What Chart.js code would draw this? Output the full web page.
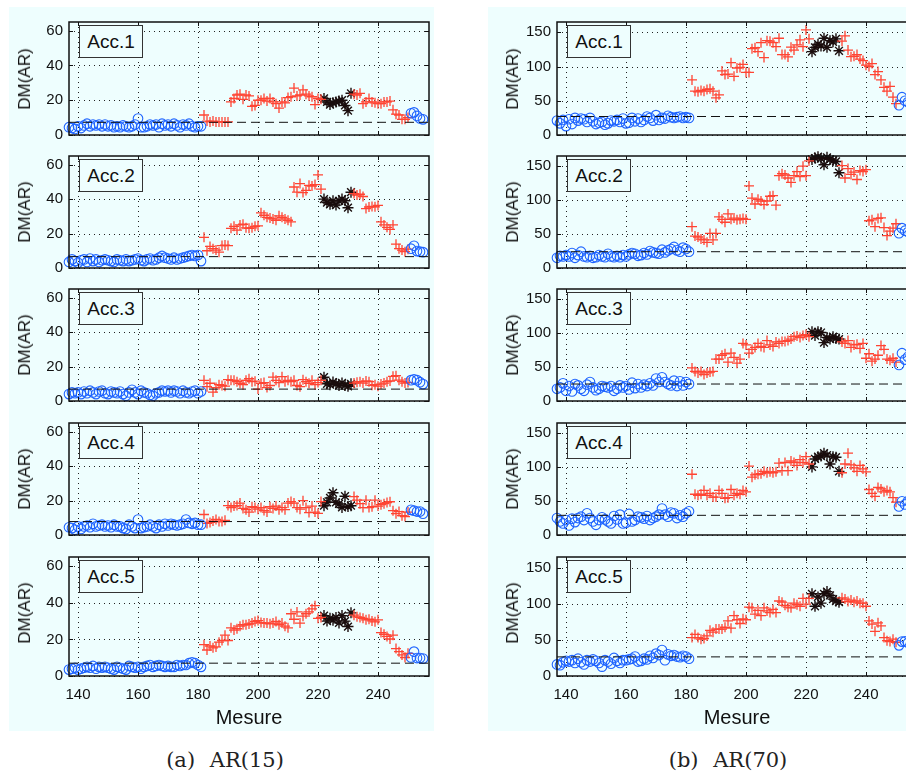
<!DOCTYPE html>
<html>
<head>
<meta charset="utf-8">
<script src="https://cdn.jsdelivr.net/npm/chart.js@4.4.1/dist/chart.umd.min.js"></script>
<style>
  html, body { margin: 0; padding: 0; }
  body { width: 906px; height: 774px; overflow: hidden; background: #fff; position: relative; font-family: "Liberation Sans", Arial, sans-serif; }
  .fond { position: absolute; background: #eefefe; }
  canvas { position: absolute; }
  .ylab { position: absolute; transform: translate(-50%, -50%) rotate(-90deg); font-size: 17px; color: #111; white-space: nowrap; }
  .acc { position: absolute; width: 62px; height: 31px; border: 1.3px solid #333; background: #eefefe; font-size: 19px; color: #111; text-align: center; line-height: 31px; }
  .xlab { position: absolute; transform: translate(-50%, -50%); font-size: 20px; color: #111; white-space: nowrap; }
  .legende { position: absolute; transform: translate(-50%, -50%); font-family: "DejaVu Serif", "Liberation Serif", serif; font-size: 21px; color: #222; white-space: nowrap; word-spacing: 8px; }
</style>
</head>
<body>
<div class="fond" style="left:9px; top:7px; width:425px; height:724px;"></div>
<div class="fond" style="left:488px; top:7px; width:430px; height:724px;"></div>
<div id="zone"></div>
<div class="xlab" style="left:249px; top:717px;">Mesure</div>
<div class="xlab" style="left:737px; top:717px;">Mesure</div>
<div class="legende" style="left:225px; top:760px;">(a) AR(15)</div>
<div class="legende" style="left:728px; top:760px;">(b) AR(70)</div>
<script>
// Mesure index (x)
const mesure = [
  137,138,139,140,141,142,143,144,145,146,
  147,148,149,150,151,152,153,154,155,156,
  157,158,159,160,161,162,163,164,165,166,
  167,168,169,170,171,172,173,174,175,176,
  177,178,179,180,181,182,183,184,185,186,
  187,188,189,190,191,192,193,194,195,196,
  197,198,199,200,201,202,203,204,205,206,
  207,208,209,210,211,212,213,214,215,216,
  217,218,219,220,221,222,223,224,225,226,
  227,228,229,230,231,232,233,234,235,236,
  237,238,239,240,241,242,243,244,245,246,
  247,248,249,250,251,252,253,254,255
];
// state boundaries
const debutDommage = 182, debutAlarme = 222, finAlarme = 231, retourSain = 251;

const xTicks = [140, 160, 180, 200, 220, 240];
const yTicksAR15 = [0, 20, 40, 60];
const yTicksAR70 = [0, 50, 100, 150];
const seuilsAR15 = [7.3, 6.6, 6.9, 7.8, 7.0];
const seuilsAR70 = [27, 24, 25, 29, 26.5];
const capteurs = ['Acc.1', 'Acc.2', 'Acc.3', 'Acc.4', 'Acc.5'];

// AR(15)
const dmAR15_1 = [
  4.5,4,3.5,5,4,5.5,6.5,5,6,5.5, 6,5,6,5,5.5,4.5,5,4.5,5.5,5, 4.5,5,6,9.5,4.5,4.5,5,6,5.5,6, 4.5,6.5,5.5,6,5,6.5,5.5,4.5,6,5.5, 6.5,5,4.5,5,5,
  11.5,8,7.5,8,7.5,7.5,7.5,7.5,7.5,19, 21,23,23.5,20.5,23,22.5,16.5,17,20,20, 21,19.5,21,19,18,15.5,19,18.5,21.5,22, 27,22.5,23,26,23.5,22.5,22,17.5,21,20.5,
  21,19,17.5,18.5,19,19.5,20,17,14,24,
  23.5,23,24,18,19,21,19,18.5,18,18, 19,19,19.5,14.5,12,11.5,9,9,10,
  12.5,13,11,9.5,9
];
const dmAR15_2 = [
  3.5,5,4,3,4.5,5,3.5,5.5,4,5, 3.5,4.5,5,4.5,4,3.5,5,4.5,4,5, 4,4.5,5,5.5,4.5,4,5,5.5,4.5,5, 6,7,6,5.5,5,6,5,5.5,6,6.5, 7,7.5,7,7.5,4,
  17.8,10,12.5,11.2,10.4,9.2,13,13.3,13,23, 24.2,22,25,25.4,23.3,23,23.3,24.2,24.5,32, 30.6,29.4,29,28.5,27.7,30.3,29.4,28.5,27.7,26.8, 47,44,49,43.8,45,48,47.6,48.4,54,45.8,
  40,38,37,39,36.5,39,40,39,35,44,
  43.2,42.3,42.8,41.5,34.5,35.4,35.7,35.5,36.3,26.8, 25,23.6,22.4,25,13.8,11.2,10.4,9.5,10.9,
  11.2,12.9,9.8,9.5,9.2
];
const dmAR15_3 = [
  4,5,4.5,5,4,5.5,4.5,6,5,4, 5.5,6,4.5,4,5.5,5,4.5,5.5,4,3, 5,6.5,5,4,6,5,4.5,3.5,3,4.5, 5,6,5.5,6,5,6,5.5,4.5,6,5, 4.5,5.5,6,4.5,5.5,
  12,8.3,10.3,5.2,7.8,9.5,9,8.6,12.4,12, 12,11.2,10.3,9.5,12,12.9,11.2,11.5,6.9,10.3, 10.7,7.8,9,13.8,12,10.7,14.1,11.2,12,11.2, 12,9,8.3,12.4,11.2,10.3,12,9.5,10.7,12,
  13.8,10,9.5,11,10,9,10.5,9,8.5,10,
  10.4,10.9,11.2,10.4,11.6,11.2,9.1,9.5,8.6,9.8, 10.4,11.2,11.6,14.3,14.7,12.1,11.2,10.4,10.8,
  12.1,12.6,12.1,10.9,9.8
];
const dmAR15_4 = [
  4.5,4,3,5,3.5,5,5.5,4.5,6.5,5, 5.5,6,5,5.5,4.5,6,5,5,4,3.5, 6,5,4,9,4,4.5,5,6,5,4, 6,5,6.5,5.5,6.5,6,5.5,6,6.5,9, 7,6.5,7,6,6,
  11.9,6.7,7.3,8.1,9,7.8,7.8,8.5,17.1,15.9, 16.8,17.1,18.5,15.4,14.7,13.3,16.4,15.9,15,15.9, 14.2,13.3,16.4,15.4,16.8,14.7,15.9,14.7,18.5,19.4, 18.5,15.9,15,19.9,15.9,13,16.8,13.3,12.5,19.4,
  17,19,21.5,24.5,19,18,16,22.5,16.5,17,
  22.3,20.2,18.2,15.9,20.2,15.9,16.4,20.2,16.8,17.6, 18.2,18.8,19.3,14.1,12.4,13.6,11.2,10.7,13.3,
  14.6,14.1,13.6,13.6,12.4
];
const dmAR15_5 = [
  3.5,4,4.5,3.5,4,4.5,5,4.5,5.5,4, 5,4.5,5,4.5,4,3.5,5,4.5,4,3.5, 5.5,5,4.5,5,4,5,5.5,6,5,5.5, 6,5.5,5,5.5,5,5,6,5.5,6,6, 7,7.5,7,6,5,
  17.1,14.2,16.4,15.4,15.9,18.5,19.4,22.3,19.4,26.3, 25.1,25.8,27.2,28,28,28.4,28.9,29.8,30.3,29.2, 28.9,28.9,28.5,28.9,29.8,28,28.9,27.2,26.3,34, 31,35,28.9,32.7,34,35,36.7,38.4,31.5,32,
  33,30,31.5,30.5,32,29,33,30,27,34.5,
  33.2,32.3,32,31.5,30.7,31,30.1,29.6,30.7,23.7, 22.8,21.6,20.2,22.3,15,13.3,11.5,10.1,12.4,
  10.1,13.3,9.8,9.8,9.5
];

// AR(70)
const dmAR70_1 = [
  21,17,22,13,23,16,25,21,24,23, 19,25,20,16,18,19,15,17,21,20, 22,19,24,17,18,25,20,24,19,22, 27,25,21,29,22,25,24,28,26,25, 26,27,25,26,25,
  80.4,64,63,65,64,66.5,67.4,64,54.3,58.7, 93.5,88.3,89,105.6,85.7,97.8,98.7,103,91.3,91.3, 126,127.4,121.7,134.8,113,137.8,137,134.8,129,141.3, 117.4,117.4,114,128.3,124,131.7,139,129,153.5,140.4,
  121.7,128,132.6,130,141.3,128,137.8,136,140.4,123,
  137,144.8,124,114.3,115,117.4,110.9,108.7,102,100, 104.3,88.3,92.6,80.4,69.6,64,71,55.2,45.7,
  43.5,55.2,50,48,45
];
const dmAR70_2 = [
  15,18,17,19,17,22,15,19,24,17, 16,18,15,16,19,17,16,21,17,16, 18,16,19,17,20,22,21,18,19,22, 20,25,23,22,21,27,23,26,28,31, 26,24,30,28,24,
  60.9,47,45.7,42.6,41.3,37.8,50.9,41.3,50.9,75.2, 71.7,67.4,79.6,71.7,73.5,70.9,71.7,73,71.7,120.9, 103,94.3,101.3,98.7,93.5,98.7,105.7,106.5,92.6,136, 139,137,132.6,126,136,142,134.8,150,136,157.8,
  160,162,164,161,152,163,160,158,157,140.4,
  150.9,132.6,146.5,137.8,141.3,130.4,143.5,142.2,144.8,69.6, 70.9,60.9,73,73.9,59.6,47.8,54.3,58.7,65.2,
  51.3,58.7,55,53,52
];
const dmAR70_3 = [
  18,20,26,15,22,14,25,23,18,15, 24,28,20,16,18,22,21,20,22,15, 18,23,20,22,17,27,19,25,20,24, 22,26,23,33,28,35,28,25,23,30, 22,29,23,28,25,
  48.7,43.5,41.3,43.5,39,41.3,42.6,43.5,61.7,61.7, 67.4,69.6,57.4,70.4,64.3,55.7,61.7,84.8,82.6,70.4, 76,79,84.8,80.4,79,89,82.6,80.4,87,84.8, 87.8,87.8,89,91.3,94.8,95.7,93.5,96.5,97.8,94.8,
  102,96.5,102,100.9,86,93.5,91.3,94.8,92.2,91.3,
  87,84.8,89,79,82.6,83.5,77.4,84.8,63,69.6, 58.7,61.7,67.4,81.7,76,61.7,60,63,57.4,
  53,70.4,61,65,60
];
const dmAR70_4 = [
  25,20,17,22,14,24,19,25,27,22, 32,25,20,15,22,26,23,20,17,28, 23,30,17,18,31,20,22,27,26,24, 28,22,25,27,30,39,30,27,33,32, 25,29,27,32,35,
  89.5,60,58.4,60,65.7,58.4,61.4,55.8,55.8,65.7, 61.4,54,55,67,58.4,61.4,60,65.7,63.6,101.6, 85.2,88.6,89.5,90.4,93.8,91.7,93,91.7,93,106, 94.7,106.8,94.7,109,106.8,102.5,111,106.8,115.4,104.6,
  100.3,112,115.4,116.3,120.6,117.6,104.6,115.4,114.6,93.8,
  91.7,104.6,120.6,103.3,99,93.8,102.5,97.3,93,67, 61.4,57,70,67.9,63.6,65.7,63.6,55,48.4,
  42,49.7,45,50,47
];
const dmAR70_5 = [
  16,15,19,21,20,22,18,24,19,16, 22,20,23,21,18,13,22,20,17,25, 21,18,22,22,23,24,27,20,21,24, 23,28,25,31,29,36,22,30,28,29, 27,26,28,27,24,
  53.3,57.6,53.3,51.1,52,55.5,63.3,60.7,65,65, 65,67.6,76.3,66.3,83.7,78,72.8,79.3,78,95.4, 94.5,85.8,91,83.7,94.5,90.2,88,92.3,88,104, 102.3,98,95.4,94.5,101,98.8,96.7,107.5,99.7,107.5,
  114,96.7,109.7,101,114,117,111.8,106.6,104,102.3,
  108.4,106.6,103.2,105.3,102.3,104,101,101,96.7,76.3, 72,62,73.7,69.4,53.3,49,47.7,51,46.8,
  42.5,47.7,48,46,45
];

const colonnes = [
  { gauche: 0, series: [dmAR15_1, dmAR15_2, dmAR15_3, dmAR15_4, dmAR15_5], seuils: seuilsAR15, yMax: 65, yTicks: yTicksAR15 },
  { gauche: 488, series: [dmAR70_1, dmAR70_2, dmAR70_3, dmAR70_4, dmAR70_5], seuils: seuilsAR70, yMax: 165, yTicks: yTicksAR70 }
];

// panel geometry (px)
const hauts = [15, 149, 282, 416, 550];
const bas = [142, 275, 408, 542, 676];
const axeGauche = 69, largeurCanvas = 440;

const cadre = {
  id: 'cadre',
  beforeDatasetsDraw(chart) {
    const { ctx, chartArea: a, scales: { x, y } } = chart;
    ctx.save();
    ctx.strokeStyle = '#222';
    ctx.lineWidth = 1;
    ctx.setLineDash([1, 4]);
    ctx.beginPath();
    x.ticks.forEach(t => {
      const px = Math.round(x.getPixelForValue(t.value)) + 0.5;
      ctx.moveTo(px, a.top); ctx.lineTo(px, a.bottom);
    });
    y.ticks.forEach(t => {
      const py = Math.round(y.getPixelForValue(t.value)) + 0.5;
      ctx.moveTo(a.left, py); ctx.lineTo(a.right, py);
    });
    ctx.stroke();
    ctx.restore();
  },
  afterDatasetsDraw(chart) {
    const { ctx, chartArea: a, scales: { x, y } } = chart;
    ctx.save();
    ctx.strokeStyle = '#111';
    ctx.lineWidth = 1.5;
    ctx.strokeRect(a.left, a.top, a.right - a.left, a.bottom - a.top);
    ctx.lineWidth = 1;
    ctx.beginPath();
    x.ticks.forEach(t => {
      const px = Math.round(x.getPixelForValue(t.value)) + 0.5;
      ctx.moveTo(px, a.bottom); ctx.lineTo(px, a.bottom - 4);
      ctx.moveTo(px, a.top); ctx.lineTo(px, a.top + 4);
    });
    y.ticks.forEach(t => {
      const py = Math.round(y.getPixelForValue(t.value)) + 0.5;
      ctx.moveTo(a.left, py); ctx.lineTo(a.left + 4, py);
      ctx.moveTo(a.right, py); ctx.lineTo(a.right - 4, py);
    });
    ctx.stroke();
    ctx.restore();
  }
};

const zone = document.getElementById('zone');

colonnes.forEach(col => {
  col.series.forEach((valeurs, i) => {
    const dernier = i === col.series.length - 1;
    const hauteurAxeX = dernier ? 30 : 0;
    const padBas = dernier ? 0 : 8;
    const canvas = document.createElement('canvas');
    canvas.width = largeurCanvas;
    canvas.height = 8 + (bas[i] - hauts[i]) + padBas + hauteurAxeX;
    canvas.style.left = col.gauche + 'px';
    canvas.style.top = (hauts[i] - 8) + 'px';
    zone.appendChild(canvas);

    const sain = [], dommage = [], alarme = [];
    mesure.forEach((m, k) => {
      const p = { x: m, y: valeurs[k] };
      if (m < debutDommage || m >= retourSain) sain.push(p);
      else if (m >= debutAlarme && m <= finAlarme) alarme.push(p);
      else dommage.push(p);
    });

    new Chart(canvas, {
      type: 'scatter',
      data: {
        datasets: [{
          type: 'line',
          data: [{ x: 137, y: col.seuils[i] }, { x: 257, y: col.seuils[i] }],
          borderColor: '#111',
          borderWidth: 1,
          borderDash: [9, 5],
          pointRadius: 0,
          fill: false
        }, {
          data: sain,
          pointStyle: 'circle',
          pointRadius: 4.8,
          borderColor: '#1f64ff',
          backgroundColor: 'rgba(0,0,0,0)',
          borderWidth: 1.1,
          clip: false
        }, {
          data: dommage,
          pointStyle: 'cross',
          pointRadius: 5,
          borderColor: '#ff4433',
          borderWidth: 1.3,
          clip: false
        }, {
          data: alarme,
          pointStyle: 'star',
          pointRadius: 5.5,
          borderColor: '#1a0d0d',
          borderWidth: 1.4,
          clip: false
        }]
      },
      options: {
        responsive: false,
        animation: false,
        events: [],
        layout: { padding: { top: 8, bottom: padBas, left: 0, right: largeurCanvas - 429 } },
        plugins: { legend: { display: false }, tooltip: { enabled: false } },
        scales: {
          x: {
            type: 'linear',
            min: 137,
            max: 257,
            afterBuildTicks: s => { s.ticks = xTicks.map(v => ({ value: v })); },
            afterFit: s => { s.height = hauteurAxeX; },
            ticks: { display: dernier, padding: 10, maxRotation: 0, color: '#111', font: { family: 'Liberation Sans', size: 15 } },
            grid: { display: false, drawTicks: false },
            border: { display: false }
          },
          y: {
            min: 0,
            max: col.yMax,
            afterBuildTicks: s => { s.ticks = col.yTicks.map(v => ({ value: v })); },
            afterFit: s => { s.width = axeGauche; },
            ticks: { padding: 6, color: '#111', font: { family: 'Liberation Sans', size: 15 } },
            grid: { display: false, drawTicks: false },
            border: { display: false }
          }
        }
      },
      plugins: [cadre]
    });

    const lab = document.createElement('div');
    lab.className = 'ylab';
    lab.textContent = 'DM(AR)';
    lab.style.left = (col.gauche + 25) + 'px';
    lab.style.top = ((hauts[i] + bas[i]) / 2) + 'px';
    zone.appendChild(lab);

    const acc = document.createElement('div');
    acc.className = 'acc';
    acc.textContent = capteurs[i];
    acc.style.left = (col.gauche + axeGauche + 10) + 'px';
    acc.style.top = (hauts[i] + 10) + 'px';
    zone.appendChild(acc);
  });
});
</script>
</body>
</html>
